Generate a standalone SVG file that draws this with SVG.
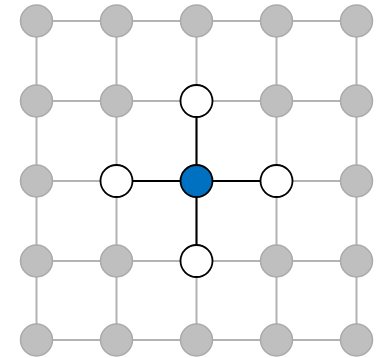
<svg xmlns="http://www.w3.org/2000/svg" width="381" height="358" viewBox="0 0 381 358">
<style>
.g{stroke:#b3b3b3;stroke-width:2;fill:none}
.k{stroke:#000;stroke-width:2;fill:none}
.n{fill:#bfbfbf;stroke:#aaaaaa;stroke-width:1.5}
.w{fill:#fff;stroke:#000;stroke-width:1.8}
.b{fill:#0070c0;stroke:#000;stroke-width:1.8}
</style>
<rect width="381" height="358" fill="#fff"/>
<g id="connectors">
<g class="g">
<line x1="36.5" y1="21" x2="356.5" y2="21"/>
<line x1="36.5" y1="101" x2="356.5" y2="101"/>
<line x1="36.5" y1="181" x2="356.5" y2="181"/>
<line x1="36.5" y1="261" x2="356.5" y2="261"/>
<line x1="36.5" y1="340" x2="356.5" y2="340"/>
<line x1="36.5" y1="21" x2="36.5" y2="340"/>
<line x1="116.5" y1="21" x2="116.5" y2="340"/>
<line x1="196.5" y1="21" x2="196.5" y2="340"/>
<line x1="276.5" y1="21" x2="276.5" y2="340"/>
<line x1="356.5" y1="21" x2="356.5" y2="340"/>
</g>
<g class="k">
<line x1="196.5" y1="101" x2="196.5" y2="261"/>
<line x1="116.5" y1="181" x2="276.5" y2="181"/>
</g>
</g>
<g id="n00"><circle class="n" cx="36.5" cy="21" r="16"/></g>
<g id="n01"><circle class="n" cx="116.5" cy="21" r="16"/></g>
<g id="n02"><circle class="n" cx="196.5" cy="21" r="16"/></g>
<g id="n03"><circle class="n" cx="276.5" cy="21" r="16"/></g>
<g id="n04"><circle class="n" cx="356.5" cy="21" r="16"/></g>
<g id="n10"><circle class="n" cx="36.5" cy="101" r="16"/></g>
<g id="n11"><circle class="n" cx="116.5" cy="101" r="16"/></g>
<g id="n12"><circle class="w" cx="196.5" cy="101" r="16"/></g>
<g id="n13"><circle class="n" cx="276.5" cy="101" r="16"/></g>
<g id="n14"><circle class="n" cx="356.5" cy="101" r="16"/></g>
<g id="n20"><circle class="n" cx="36.5" cy="181" r="16"/></g>
<g id="n21"><circle class="w" cx="116.5" cy="181" r="16"/></g>
<g id="n22"><circle class="b" cx="196.5" cy="181" r="16"/></g>
<g id="n23"><circle class="w" cx="276.5" cy="181" r="16"/></g>
<g id="n24"><circle class="n" cx="356.5" cy="181" r="16"/></g>
<g id="n30"><circle class="n" cx="36.5" cy="261" r="16"/></g>
<g id="n31"><circle class="n" cx="116.5" cy="261" r="16"/></g>
<g id="n32"><circle class="w" cx="196.5" cy="261" r="16"/></g>
<g id="n33"><circle class="n" cx="276.5" cy="261" r="16"/></g>
<g id="n34"><circle class="n" cx="356.5" cy="261" r="16"/></g>
<g id="n40"><circle class="n" cx="36.5" cy="340" r="16"/></g>
<g id="n41"><circle class="n" cx="116.5" cy="340" r="16"/></g>
<g id="n42"><circle class="n" cx="196.5" cy="340" r="16"/></g>
<g id="n43"><circle class="n" cx="276.5" cy="340" r="16"/></g>
<g id="n44"><circle class="n" cx="356.5" cy="340" r="16"/></g>
</svg>
